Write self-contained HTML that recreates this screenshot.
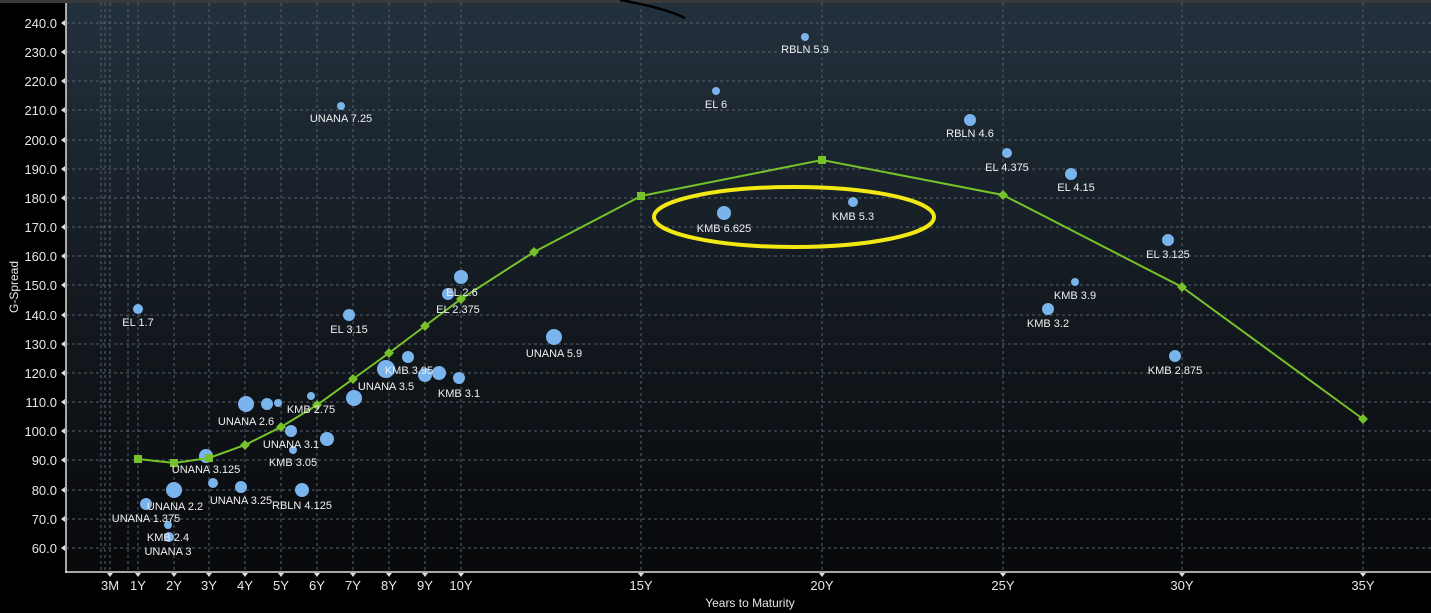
<!DOCTYPE html>
<html><head><meta charset="utf-8"><style>
html,body{margin:0;padding:0;background:#000;}
svg{display:block;}
text{font-family:"Liberation Sans",sans-serif;}
</style></head><body>
<svg width="1431" height="613" viewBox="0 0 1431 613" xmlns="http://www.w3.org/2000/svg">
<defs>
<linearGradient id="bg" x1="0" y1="0" x2="0" y2="1">
<stop offset="0" stop-color="#23313d"/>
<stop offset="0.45" stop-color="#151c23"/>
<stop offset="1" stop-color="#08090b"/>
</linearGradient>
</defs>
<rect width="1431" height="613" fill="#000"/>
<rect x="66" y="3" width="1365" height="569" fill="url(#bg)"/>
<rect x="0" y="0" width="1431" height="3" fill="#3a3a3a"/>
<g stroke="#56626c" stroke-width="1" stroke-dasharray="3,3" fill="none">
<line x1="66" y1="23" x2="1431" y2="23"/><line x1="66" y1="52" x2="1431" y2="52"/><line x1="66" y1="81" x2="1431" y2="81"/><line x1="66" y1="110" x2="1431" y2="110"/><line x1="66" y1="140" x2="1431" y2="140"/><line x1="66" y1="169" x2="1431" y2="169"/><line x1="66" y1="198" x2="1431" y2="198"/><line x1="66" y1="227" x2="1431" y2="227"/><line x1="66" y1="256" x2="1431" y2="256"/><line x1="66" y1="285" x2="1431" y2="285"/><line x1="66" y1="315" x2="1431" y2="315"/><line x1="66" y1="344" x2="1431" y2="344"/><line x1="66" y1="373" x2="1431" y2="373"/><line x1="66" y1="402" x2="1431" y2="402"/><line x1="66" y1="431" x2="1431" y2="431"/><line x1="66" y1="460" x2="1431" y2="460"/><line x1="66" y1="490" x2="1431" y2="490"/><line x1="66" y1="519" x2="1431" y2="519"/><line x1="66" y1="548" x2="1431" y2="548"/>
<line x1="101" y1="3" x2="101" y2="572"/><line x1="105" y1="3" x2="105" y2="572"/><line x1="110" y1="3" x2="110" y2="572"/><line x1="128" y1="3" x2="128" y2="572"/>
<line x1="138" y1="3" x2="138" y2="572"/><line x1="174" y1="3" x2="174" y2="572"/><line x1="209" y1="3" x2="209" y2="572"/><line x1="245" y1="3" x2="245" y2="572"/><line x1="281" y1="3" x2="281" y2="572"/><line x1="317" y1="3" x2="317" y2="572"/><line x1="353" y1="3" x2="353" y2="572"/><line x1="389" y1="3" x2="389" y2="572"/><line x1="425" y1="3" x2="425" y2="572"/><line x1="461" y1="3" x2="461" y2="572"/><line x1="641" y1="3" x2="641" y2="572"/><line x1="822" y1="3" x2="822" y2="572"/><line x1="1003" y1="3" x2="1003" y2="572"/><line x1="1182" y1="3" x2="1182" y2="572"/><line x1="1363" y1="3" x2="1363" y2="572"/>
</g>
<g stroke="#ddd" stroke-width="1.5"><line x1="66" y1="3" x2="66" y2="573"/><line x1="65" y1="572" x2="1431" y2="572"/></g>
<g fill="#ddd">
<path d="M61,23 l4,-3 v6z M61,52 l4,-3 v6z M61,81 l4,-3 v6z M61,110 l4,-3 v6z M61,140 l4,-3 v6z M61,169 l4,-3 v6z M61,198 l4,-3 v6z M61,227 l4,-3 v6z M61,256 l4,-3 v6z M61,285 l4,-3 v6z M61,315 l4,-3 v6z M61,344 l4,-3 v6z M61,373 l4,-3 v6z M61,402 l4,-3 v6z M61,431 l4,-3 v6z M61,460 l4,-3 v6z M61,490 l4,-3 v6z M61,519 l4,-3 v6z M61,548 l4,-3 v6z"/>
<path d="M110,577 l-3,-4 h6z M138,577 l-3,-4 h6z M174,577 l-3,-4 h6z M209,577 l-3,-4 h6z M245,577 l-3,-4 h6z M281,577 l-3,-4 h6z M317,577 l-3,-4 h6z M353,577 l-3,-4 h6z M389,577 l-3,-4 h6z M425,577 l-3,-4 h6z M461,577 l-3,-4 h6z M641,577 l-3,-4 h6z M822,577 l-3,-4 h6z M1003,577 l-3,-4 h6z M1182,577 l-3,-4 h6z M1363,577 l-3,-4 h6z"/>
</g>
<g fill="#e6e6e6" font-size="13" text-anchor="end">
<text x="57" y="28">240.0</text><text x="57" y="57">230.0</text><text x="57" y="86">220.0</text><text x="57" y="115">210.0</text><text x="57" y="145">200.0</text><text x="57" y="174">190.0</text><text x="57" y="203">180.0</text><text x="57" y="232">170.0</text><text x="57" y="261">160.0</text><text x="57" y="290">150.0</text><text x="57" y="320">140.0</text><text x="57" y="349">130.0</text><text x="57" y="378">120.0</text><text x="57" y="407">110.0</text><text x="57" y="436">100.0</text><text x="57" y="465">90.0</text><text x="57" y="495">80.0</text><text x="57" y="524">70.0</text><text x="57" y="553">60.0</text>
</g>
<g fill="#e6e6e6" font-size="13" text-anchor="middle">
<text x="110" y="590">3M</text><text x="138" y="590">1Y</text><text x="174" y="590">2Y</text><text x="209" y="590">3Y</text><text x="245" y="590">4Y</text><text x="281" y="590">5Y</text><text x="317" y="590">6Y</text><text x="353" y="590">7Y</text><text x="389" y="590">8Y</text><text x="425" y="590">9Y</text><text x="461" y="590">10Y</text><text x="641" y="590">15Y</text><text x="822" y="590">20Y</text><text x="1003" y="590">25Y</text><text x="1182" y="590">30Y</text><text x="1363" y="590">35Y</text>
<text x="750" y="607" font-size="12">Years to Maturity</text>
<text x="18" y="287" font-size="12" transform="rotate(-90 18 287)">G-Spread</text>
</g>
<path d="M620,0 Q665,8 685,18" stroke="#000" stroke-width="2.5" fill="none"/>
<g fill="#7ab4ec">
<circle cx="138" cy="309" r="5"/><circle cx="341" cy="106" r="4"/><circle cx="146" cy="504" r="6"/><circle cx="174" cy="490" r="8"/><circle cx="168" cy="525" r="4"/><circle cx="169" cy="537" r="5"/><circle cx="206" cy="456" r="7"/><circle cx="213" cy="483" r="5"/><circle cx="241" cy="487" r="6"/><circle cx="246" cy="404" r="8"/><circle cx="267" cy="404" r="6"/><circle cx="278" cy="403" r="4"/><circle cx="291" cy="431" r="6"/><circle cx="293" cy="450" r="4"/><circle cx="302" cy="490" r="7"/><circle cx="311" cy="396" r="4"/><circle cx="327" cy="439" r="7"/><circle cx="349" cy="315" r="6"/><circle cx="354" cy="398" r="8"/><circle cx="386" cy="369" r="9"/><circle cx="408" cy="357" r="6"/><circle cx="425" cy="375" r="7"/><circle cx="439" cy="373" r="7"/><circle cx="459" cy="378" r="6"/><circle cx="448" cy="294" r="6"/><circle cx="461" cy="277" r="7"/><circle cx="554" cy="337" r="8"/><circle cx="716" cy="91" r="4"/><circle cx="805" cy="37" r="4"/><circle cx="724" cy="213" r="7"/><circle cx="853" cy="202" r="5"/><circle cx="970" cy="120" r="6"/><circle cx="1007" cy="153" r="5"/><circle cx="1071" cy="174" r="6"/><circle cx="1168" cy="240" r="6"/><circle cx="1075" cy="282" r="4"/><circle cx="1048" cy="309" r="6"/><circle cx="1175" cy="356" r="6"/>
</g>
<polyline points="138,459 174,463 209,458 245,445 281,427 317,405 353,379 389,353 425,326 461,299 534,252 641,196 822,160 1003,195 1182,287 1363,419" fill="none" stroke="#76c22a" stroke-width="2"/>
<g fill="#76c22a">
<rect x="134" y="455" width="8" height="8"/><rect x="170" y="459" width="8" height="8"/><rect x="205" y="454" width="8" height="8"/><rect x="637" y="192" width="8" height="8"/><rect x="818" y="156" width="8" height="8"/>
<g transform="translate(245,445) rotate(45)"><rect x="-3.5" y="-3.5" width="7" height="7"/></g>
<g transform="translate(281,427) rotate(45)"><rect x="-3.5" y="-3.5" width="7" height="7"/></g>
<g transform="translate(317,405) rotate(45)"><rect x="-3.5" y="-3.5" width="7" height="7"/></g>
<g transform="translate(353,379) rotate(45)"><rect x="-3.5" y="-3.5" width="7" height="7"/></g>
<g transform="translate(389,353) rotate(45)"><rect x="-3.5" y="-3.5" width="7" height="7"/></g>
<g transform="translate(425,326) rotate(45)"><rect x="-3.5" y="-3.5" width="7" height="7"/></g>
<g transform="translate(461,299) rotate(45)"><rect x="-3.5" y="-3.5" width="7" height="7"/></g>
<g transform="translate(534,252) rotate(45)"><rect x="-3.5" y="-3.5" width="7" height="7"/></g>
<g transform="translate(1003,195) rotate(45)"><rect x="-3.5" y="-3.5" width="7" height="7"/></g>
<g transform="translate(1182,287) rotate(45)"><rect x="-3.5" y="-3.5" width="7" height="7"/></g>
<g transform="translate(1363,419) rotate(45)"><rect x="-3.5" y="-3.5" width="7" height="7"/></g>
</g>
<ellipse cx="794" cy="217" rx="140" ry="30" fill="none" stroke="#f2e914" stroke-width="4"/>
<g fill="#f0f0f0" font-size="11" text-anchor="middle">
<text x="138" y="326">EL 1.7</text><text x="341" y="122">UNANA 7.25</text><text x="146" y="522">UNANA 1.375</text><text x="175" y="510">UNANA 2.2</text><text x="168" y="541">KMB 2.4</text><text x="168" y="555">UNANA 3</text><text x="206" y="473">UNANA 3.125</text><text x="241" y="504">UNANA 3.25</text><text x="246" y="425">UNANA 2.6</text><text x="291" y="448">UNANA 3.1</text><text x="293" y="466">KMB 3.05</text><text x="302" y="509">RBLN 4.125</text><text x="311" y="413">KMB 2.75</text><text x="349" y="333">EL 3.15</text><text x="386" y="390">UNANA 3.5</text><text x="409" y="374">KMB 3.95</text><text x="459" y="397">KMB 3.1</text><text x="458" y="313">EL 2.375</text><text x="462" y="296">EL 2.6</text><text x="554" y="357">UNANA 5.9</text><text x="716" y="108">EL 6</text><text x="805" y="53">RBLN 5.9</text><text x="724" y="232">KMB 6.625</text><text x="853" y="220">KMB 5.3</text><text x="970" y="137">RBLN 4.6</text><text x="1007" y="171">EL 4.375</text><text x="1076" y="191">EL 4.15</text><text x="1168" y="258">EL 3.125</text><text x="1075" y="299">KMB 3.9</text><text x="1048" y="327">KMB 3.2</text><text x="1175" y="374">KMB 2.875</text>
</g>
</svg>
</body></html>
